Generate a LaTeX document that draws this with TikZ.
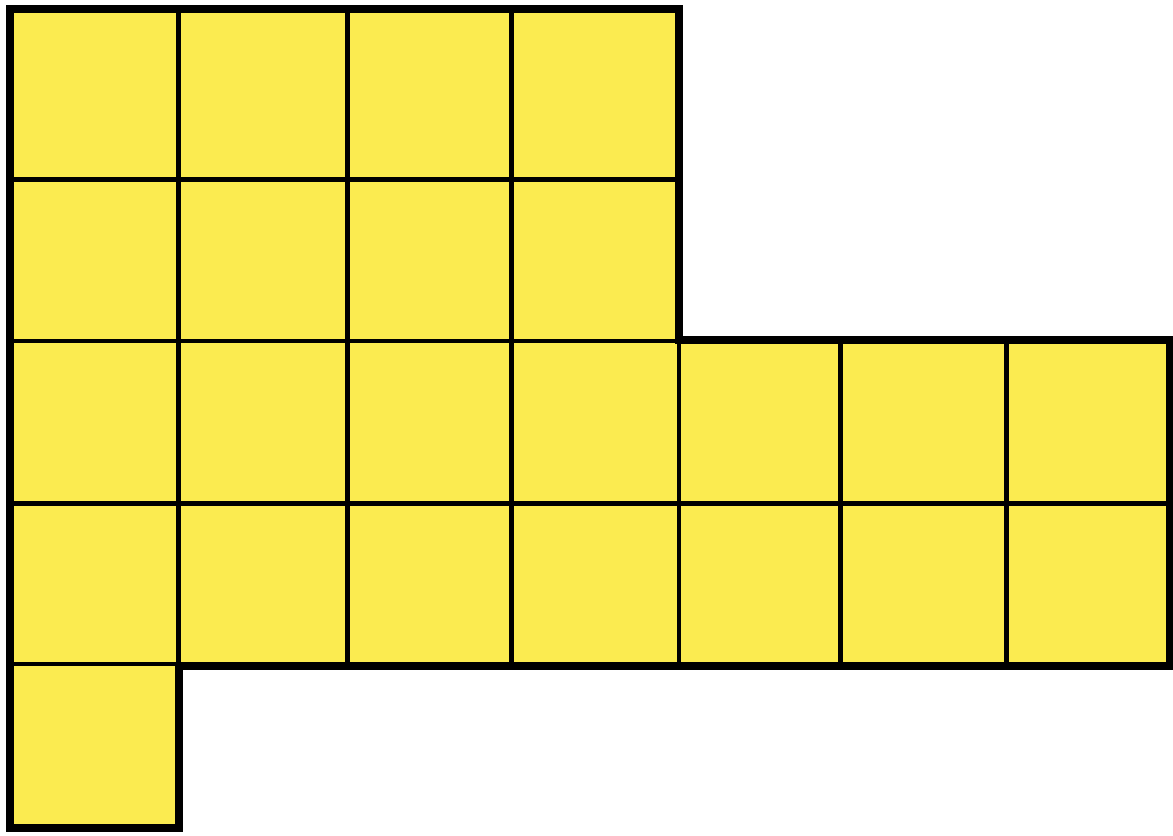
\documentclass[tikz,border=0pt]{standalone}
\usepackage{tikz}

\definecolor{tileyellow}{RGB}{251,235,80}

\begin{document}
\begin{tikzpicture}[x=0.01cm, y=-0.01cm, outline/.style={draw=black, line width=2.3pt, line join=miter}, gridline/.style={draw=black, line width=1.4pt}]
\useasboundingbox (0,0) rectangle (1173,835);
% shape
\fill[tileyellow] (10,9) -- (679,9) -- (679,340) -- (1170,340) -- (1170,666) -- (179,666) -- (179,828) -- (10,828) -- cycle;
% upper block and full rows
\foreach \x in {178.5, 347.5, 511.5}
  \draw[gridline] (\x,9) -- (\x,666);
\foreach \x in {679, 840.5, 1006.5}
  \draw[gridline] (\x,340) -- (\x,666);
\draw[gridline] (10,179.5) -- (679,179.5);
\draw[gridline] (10,341) -- (679,341);
\draw[gridline] (10,503.5) -- (1170,503.5);
\draw[gridline] (10,664) -- (179,664);
% border
\draw[outline] (10,9) -- (679,9) -- (679,340) -- (1170,340) -- (1170,666) -- (179,666) -- (179,828) -- (10,828) -- cycle;
\end{tikzpicture}
\end{document}
